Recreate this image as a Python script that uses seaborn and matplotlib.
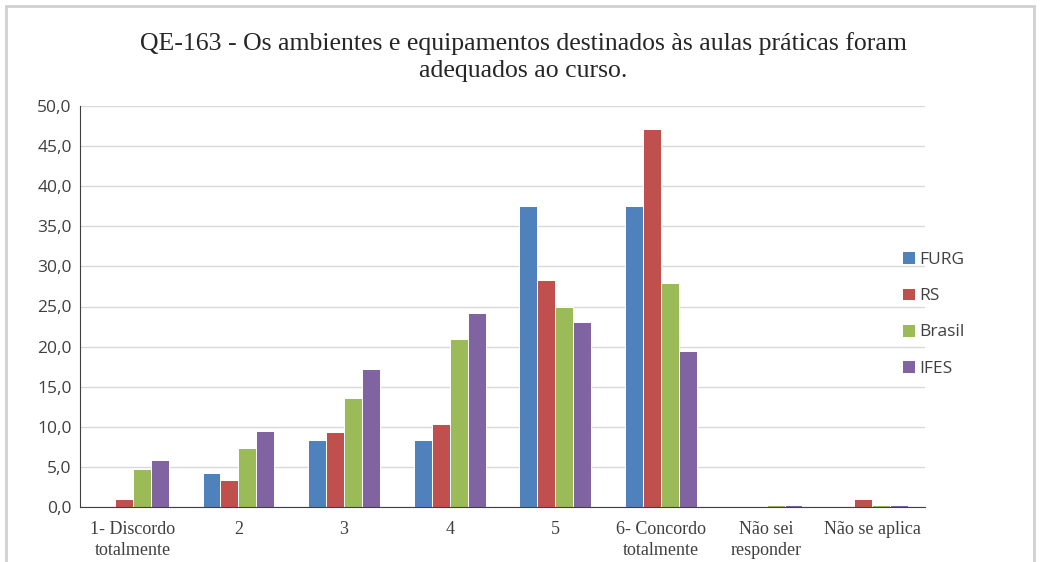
import seaborn as sns
import pandas as pd
import matplotlib.pyplot as plt
from matplotlib.patches import Rectangle

categorias = ["1- Discordo\ntotalmente", "2", "3", "4", "5",
              "6- Concordo\ntotalmente", "Não sei\nresponder", "Não se aplica"]
furg = [0.0, 4.2, 8.3, 8.3, 37.5, 37.5, 0.0, 0.0]
rs = [1.0, 3.4, 9.4, 10.3, 28.3, 47.1, 0.0, 1.0]
brasil = [4.8, 7.3, 13.6, 20.9, 25.0, 27.9, 0.3, 0.3]
ifes = [5.9, 9.5, 17.2, 24.2, 23.1, 19.5, 0.3, 0.3]

series = ["FURG", "RS", "Brasil", "IFES"]
cores = ["#4F81BD", "#C0504D", "#9BBB59", "#8064A2"]

titulo = "QE-163 - Os ambientes e equipamentos destinados às aulas práticas foram\nadequados ao curso."

df = pd.DataFrame({
    "categoria": categorias * 4,
    "valor": furg + rs + brasil + ifes,
    "serie": [s for s in series for _ in categorias],
})

sns.set_style("white")

fig = plt.figure(figsize=(10.4, 5.62), dpi=100)
ax = fig.add_axes([80 / 1040, 1 - 507 / 562, (925 - 80) / 1040, (507 - 106) / 562])

sns.barplot(data=df, x="categoria", y="valor", hue="serie", hue_order=series,
            palette=cores, width=0.68, edgecolor="white", linewidth=0.7,
            saturation=1, ax=ax)

ax.set_ylim(0, 50)
ax.set_xlim(-0.5, len(categorias) - 0.5)
ax.set_yticks(range(0, 51, 5))
ax.set_yticklabels([f"{v:.1f}".replace(".", ",") for v in range(0, 51, 5)],
                   fontfamily="Open Sans", fontsize=12.5, color="#404040")
ax.set_xticklabels(categorias, fontfamily="Liberation Serif", fontsize=13,
                   color="#404040", linespacing=1.3)
ax.tick_params(axis="y", length=0, pad=6)
ax.tick_params(axis="x", length=0, pad=10)
ax.set_xlabel("")
ax.set_ylabel("")

ax.yaxis.grid(True, color="#D9D9D9", linewidth=1)
ax.set_axisbelow(True)
for lado in ["top", "right"]:
    ax.spines[lado].set_visible(False)
ax.spines["left"].set_color("#404040")
ax.spines["bottom"].set_color("#404040")

leg = ax.legend(loc="center left", bbox_to_anchor=(886 / 1040, 1 - 314 / 562),
                bbox_transform=fig.transFigure, frameon=False,
                prop={"family": "Open Sans", "size": 12.5},
                handlelength=0.75, handleheight=0.75, handletextpad=0.25,
                labelspacing=1.15)
for t in leg.get_texts():
    t.set_color("#404040")

fig.text(523 / 1040, 1 - 57 / 562, titulo, ha="center", va="center",
         fontfamily="Liberation Serif", fontsize=18.5, color="#262626",
         linespacing=1.3)

fig.patches.append(Rectangle((6 / 1040, -0.01), 1028 / 1040, 1 - 6 / 562 + 0.01,
                             transform=fig.transFigure, fill=False,
                             edgecolor="#D0D0D0", linewidth=2))

fig.savefig("out.png", dpi=100)
